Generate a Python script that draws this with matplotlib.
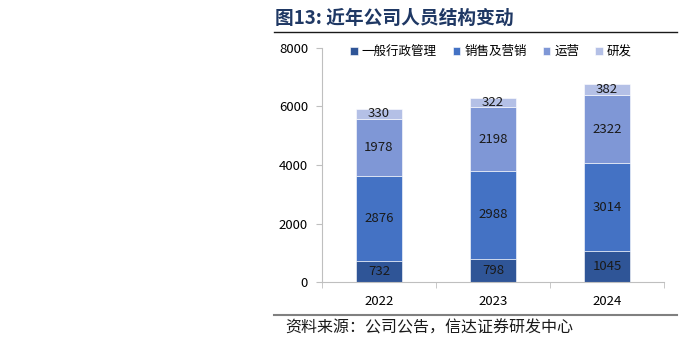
import matplotlib.pyplot as plt
import numpy as np

plt.rcParams['font.family'] = ['Noto Sans CJK SC', 'DejaVu Sans']

years = ["2022", "2023", "2024"]
admin = [732, 798, 1045]
sales = [2876, 2988, 3014]
ops = [1978, 2198, 2322]
rnd = [330, 322, 382]
series_names = ["一般行政管理", "销售及营销", "运营", "研发"]
colors = ["#2F5597", "#4472C4", "#7F97D6", "#B4C0E6"]

fig = plt.figure(figsize=(6.92, 3.47), dpi=100)
ax = fig.add_axes([0.4653, 0.1873, 0.4942, 0.6744])

x = np.arange(len(years))
bottom = np.zeros(len(years))
for vals, name, c in zip([admin, sales, ops, rnd], series_names, colors):
    bars = ax.bar(x, vals, width=0.4, bottom=bottom, color=c, label=name,
                  edgecolor="white", linewidth=0.4)
    ax.bar_label(bars, labels=[str(v) for v in vals], label_type="center",
                 fontsize=9.5, color="#1a1a1a")
    bottom += np.array(vals)

ax.set_xlim(-0.5, 2.5)
ax.set_ylim(0, 8000)
ax.set_yticks([0, 2000, 4000, 6000, 8000])
ax.set_xticks(x)
ax.set_xticklabels(years)
ax.set_xticks([-0.5, 0.5, 1.5, 2.5], minor=True)
ax.tick_params(axis="x", which="major", length=0, pad=9, labelsize=9.5)
ax.tick_params(axis="x", which="minor", length=4, color="#bfbfbf")
ax.tick_params(axis="y", length=4, color="#bfbfbf", labelsize=9.5, pad=6)
for s in ["top", "right"]:
    ax.spines[s].set_visible(False)
ax.spines["left"].set_color("#bfbfbf")
ax.spines["bottom"].set_color("#bfbfbf")

leg = ax.legend(loc="upper left", bbox_to_anchor=(0.05, 1.06), ncol=4, frameon=False,
                fontsize=9, handlelength=0.6, handleheight=0.6, handletextpad=0.3,
                columnspacing=1.3)

fig.text(0.397, 0.948, "图13: 近年公司人员结构变动", fontsize=13.5,
         fontweight="bold", color="#1F3864", va="center")
fig.add_artist(plt.Line2D([0.396, 0.978], [0.908, 0.908], color="#1a1a1a", linewidth=1))
fig.add_artist(plt.Line2D([0.396, 0.978], [0.093, 0.093], color="#808080", linewidth=1.5))
fig.text(0.412, 0.055, "资料来源：公司公告，信达证券研发中心", fontsize=11.5, color="#1a1a1a",
         va="center", style="italic")

fig.savefig("out.png", dpi=100)
